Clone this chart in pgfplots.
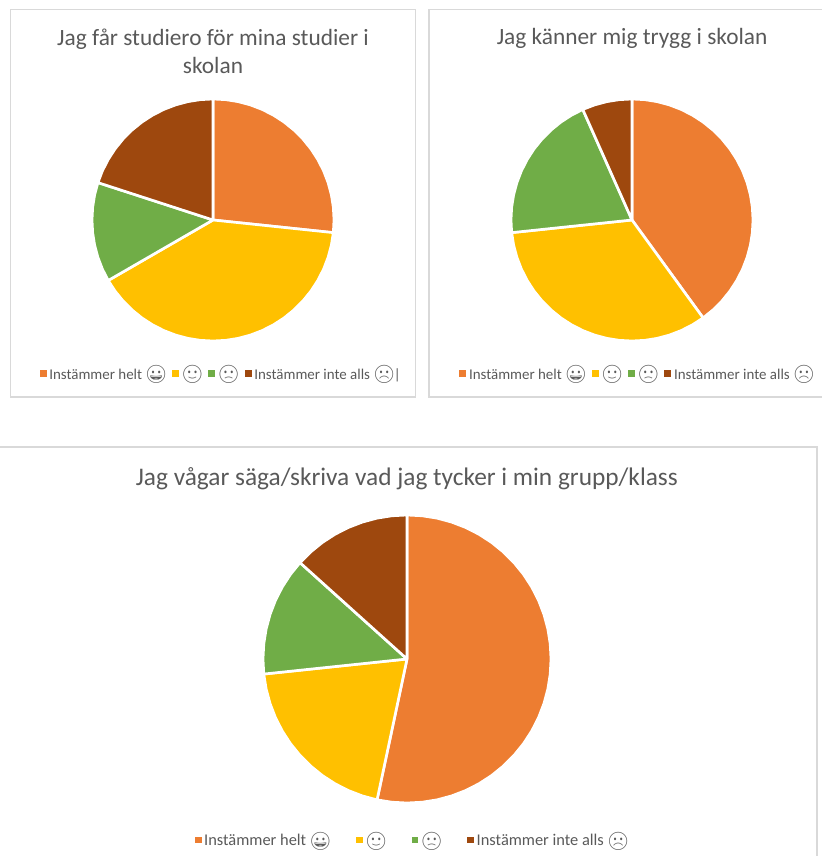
\documentclass[border=0pt]{standalone}
\usepackage{fontspec}
\setmainfont{Carlito}
\newfontfamily\emo{Noto Emoji}
\usepackage{pgfplots}
\pgfplotsset{compat=1.18}
\definecolor{c1}{HTML}{ED7D31}
\definecolor{c2}{HTML}{FFC000}
\definecolor{c3}{HTML}{70AD47}
\definecolor{c4}{HTML}{9E480E}
\definecolor{fr}{HTML}{D9D9D9}
\definecolor{tx}{HTML}{595959}
\newcommand\E[1]{\kern-0.5pt{\emo\fontsize{13.4}{13}\selectfont\raisebox{-1.2pt}{#1}}\kern-1.3pt}
\pgfplotsset{
 panel/.style={
  scale only axis, xtick=\empty, ytick=\empty,
  axis line style={draw=fr,line width=1.1pt},
  title style={font=\fontsize{17.5}{21}\selectfont,text=tx,align=center,anchor=center,inner sep=0pt,yshift=-6pt},
  legend columns=4,
  legend cell align=left,
  legend image code/.code={\path[##1,draw=none] (0pt,-2.6pt) rectangle (5.2pt,2.6pt);},
  legend style={draw=none,fill=none,anchor=center,text=tx,
    font=\fontsize{11.2}{13}\selectfont,
    inner sep=0pt,
    nodes={inner sep=0.8pt},
    /tikz/every even column/.append style={column sep=4pt},
    /tikz/every odd column/.append style={column sep=1.2pt}},
 },
 w/.style={fill=#1,draw=white,line width=2pt,line join=round,data cs=polar},
}
\begin{document}
\begin{tikzpicture}
\useasboundingbox (0pt,0pt) rectangle (615.75pt,642pt);
% Panel 1: 4,6,2,3 of 15
\begin{axis}[panel,at={(7.875pt,344.25pt)},anchor=south west,
 width=303.75pt,height=290.625pt,xmin=-202.5,xmax=202.5,ymin=-177,ymax=210.5,
 title={Jag får studiero för mina studier i\\skolan},
 title style={at={(0.5,0.893)}},
 legend style={at={(0.519,0.061)}}]
\addplot[w=c1] coordinates {(0,0)(90,121)(84,121)(78,121)(72,121)(66,121)(60,121)(54,121)(48,121)(42,121)(36,121)(30,121)(24,121)(18,121)(12,121)(6,121)(0,121)(-6,121)(0,0)};
\addlegendentry{Instämmer helt \E{😀}}
\addplot[w=c2] coordinates {(0,0)(-6,121)(-12,121)(-18,121)(-24,121)(-30,121)(-36,121)(-42,121)(-48,121)(-54,121)(-60,121)(-66,121)(-72,121)(-78,121)(-84,121)(-90,121)(-96,121)(-102,121)(-108,121)(-114,121)(-120,121)(-126,121)(-132,121)(-138,121)(-144,121)(-150,121)(0,0)};
\addlegendentry{\E{🙂}}
\addplot[w=c3] coordinates {(0,0)(-150,121)(-156,121)(-162,121)(-168,121)(-174,121)(-180,121)(-186,121)(-192,121)(-198,121)(0,0)};
\addlegendentry{\E{🙁}}
\addplot[w=c4] coordinates {(0,0)(-198,121)(-204,121)(-210,121)(-216,121)(-222,121)(-228,121)(-234,121)(-240,121)(-246,121)(-252,121)(-258,121)(-264,121)(-270,121)(0,0)};
\addlegendentry{Instämmer inte alls \E{☹}|}
\end{axis}
% Panel 2: 6,5,3,1 of 15
\begin{axis}[panel,at={(321.75pt,344.25pt)},anchor=south west,
 width=308.25pt,height=290.625pt,xmin=-203,xmax=208,ymin=-177,ymax=210.5,
 title={Jag känner mig trygg i skolan},
 title style={at={(0.494,0.925)}},
 legend style={at={(0.506,0.061)}}]
\addplot[w=c1] coordinates {(0,0)(90,121)(84,121)(78,121)(72,121)(66,121)(60,121)(54,121)(48,121)(42,121)(36,121)(30,121)(24,121)(18,121)(12,121)(6,121)(0,121)(-6,121)(-12,121)(-18,121)(-24,121)(-30,121)(-36,121)(-42,121)(-48,121)(-54,121)(0,0)};
\addlegendentry{Instämmer helt \E{😀}}
\addplot[w=c2] coordinates {(0,0)(-54,121)(-60,121)(-66,121)(-72,121)(-78,121)(-84,121)(-90,121)(-96,121)(-102,121)(-108,121)(-114,121)(-120,121)(-126,121)(-132,121)(-138,121)(-144,121)(-150,121)(-156,121)(-162,121)(-168,121)(-174,121)(0,0)};
\addlegendentry{\E{🙂}}
\addplot[w=c3] coordinates {(0,0)(-174,121)(-180,121)(-186,121)(-192,121)(-198,121)(-204,121)(-210,121)(-216,121)(-222,121)(-228,121)(-234,121)(-240,121)(-246,121)(0,0)};
\addlegendentry{\E{🙁}}
\addplot[w=c4] coordinates {(0,0)(-246,121)(-252,121)(-258,121)(-264,121)(-270,121)(0,0)};
\addlegendentry{Instämmer inte alls \E{☹}}
\end{axis}
% Panel 3: 8,3,2,2 of 15
\begin{axis}[panel,at={(-7.5pt,-10.5pt)},anchor=south west,
 width=620.25pt,height=317.25pt,xmin=-417,xmax=410,ymin=-211,ymax=212,
 title={Jag vågar säga/skriva vad jag tycker i min grupp/klass},
 title style={at={(0.504,0.924)},font=\fontsize{19}{22}\selectfont},
 legend style={at={(0.510,0.071)},font=\fontsize{12.3}{14}\selectfont,/tikz/every even column/.append style={column sep=18.5pt}}]
\addplot[w=c1] coordinates {(0,0)(90,144)(84,144)(78,144)(72,144)(66,144)(60,144)(54,144)(48,144)(42,144)(36,144)(30,144)(24,144)(18,144)(12,144)(6,144)(0,144)(-6,144)(-12,144)(-18,144)(-24,144)(-30,144)(-36,144)(-42,144)(-48,144)(-54,144)(-60,144)(-66,144)(-72,144)(-78,144)(-84,144)(-90,144)(-96,144)(-102,144)(0,0)};
\addlegendentry{Instämmer helt \E{😀}}
\addplot[w=c2] coordinates {(0,0)(-102,144)(-108,144)(-114,144)(-120,144)(-126,144)(-132,144)(-138,144)(-144,144)(-150,144)(-156,144)(-162,144)(-168,144)(-174,144)(0,0)};
\addlegendentry{\E{🙂}}
\addplot[w=c3] coordinates {(0,0)(-174,144)(-180,144)(-186,144)(-192,144)(-198,144)(-204,144)(-210,144)(-216,144)(-222,144)(0,0)};
\addlegendentry{\E{🙁}}
\addplot[w=c4] coordinates {(0,0)(-222,144)(-228,144)(-234,144)(-240,144)(-246,144)(-252,144)(-258,144)(-264,144)(-270,144)(0,0)};
\addlegendentry{Instämmer inte alls \E{☹}}
\end{axis}
\end{tikzpicture}
\end{document}
